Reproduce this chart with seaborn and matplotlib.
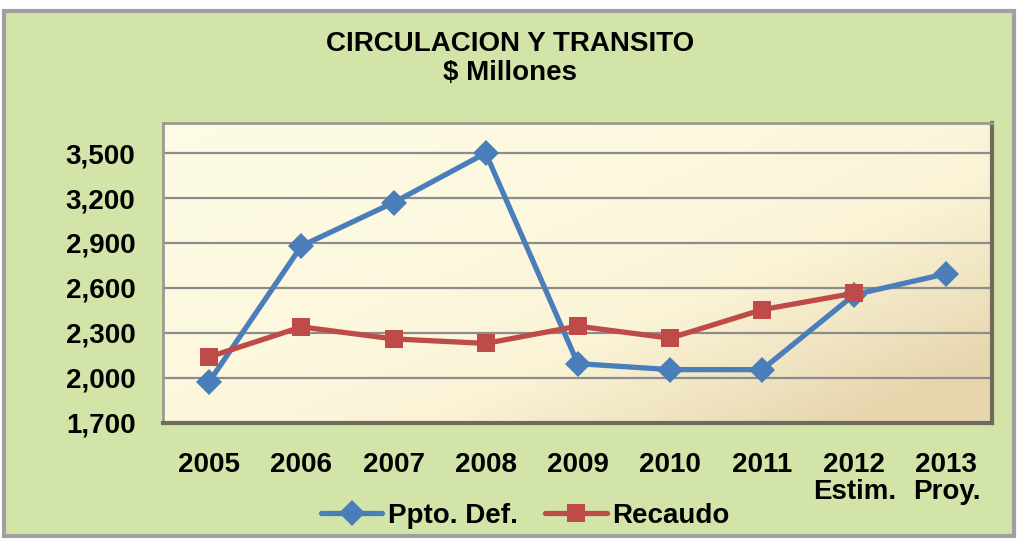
import numpy as np
import pandas as pd
import matplotlib
matplotlib.use("Agg")
import matplotlib.pyplot as plt
from matplotlib.patches import Rectangle
from matplotlib.colors import LinearSegmentedColormap
import seaborn as sns

# data
years = ["2005", "2006", "2007", "2008", "2009", "2010", "2011", "2012", "2013"]
tick_labels = ["2005", "2006", "2007", "2008", "2009", "2010", "2011",
               "2012\nEstim.", "2013\nProy."]
ppto_def = [1975, 2880, 3170, 3500, 2095, 2055, 2055, 2555, 2695]
recaudo = [2140, 2340, 2260, 2230, 2345, 2265, 2455, 2565, np.nan]
y_ticks = [1700, 2000, 2300, 2600, 2900, 3200, 3500]

sns.set_theme(style="white")
plt.rcParams["font.family"] = ["Liberation Sans", "DejaVu Sans"]
plt.rcParams["font.weight"] = "bold"
plt.rcParams["text.color"] = "black"
plt.rcParams["xtick.color"] = "black"
plt.rcParams["ytick.color"] = "black"

df = pd.DataFrame({
    "pos": list(range(len(years))) * 2,
    "valor": ppto_def + recaudo,
    "serie": ["Ppto. Def."] * len(years) + ["Recaudo"] * len(years),
})

fig = plt.figure(figsize=(10.2, 5.4), dpi=100, facecolor="white")
# outer green chart area with grey frame
fig.patches.append(Rectangle((0.004, 0.008), 0.99, 0.972, transform=fig.transFigure,
                             facecolor="#d3e4a8", edgecolor="#a0a0a0", linewidth=3,
                             zorder=-10))

ax = fig.add_axes([0.160, 0.217, 0.813, 0.555])

# gradient background of the plot area (cream -> tan towards bottom right)
gx, gy = np.meshgrid(np.linspace(0, 1, 200), np.linspace(0, 1, 100))
grad = np.clip(0.6 * gx + 0.5 * gy, 0, 1) ** 1.8
cmap = LinearSegmentedColormap.from_list("bg", ["#fefbe4", "#faf3d6", "#e6d5ad"])
ax.imshow(grad, cmap=cmap, extent=[-0.5, 8.5, 1700, 3700], aspect="auto",
          origin="upper", zorder=0)

sns.lineplot(data=df, x="pos", y="valor", hue="serie", style="serie",
             palette={"Ppto. Def.": "#4a7ebb", "Recaudo": "#be4b48"},
             markers={"Ppto. Def.": "D", "Recaudo": "s"}, dashes=False,
             linewidth=3.8, markersize=13, markeredgewidth=0, ax=ax, zorder=3)

ax.set_xlim(-0.5, 8.5)
ax.set_ylim(1700, 3700)
ax.set_yticks(y_ticks)
ax.set_yticklabels([f"{v:,}" for v in y_ticks], fontsize=20, fontweight="bold")
ax.set_xticks(range(len(years)))
ax.set_xticklabels(tick_labels, fontsize=20, fontweight="bold", linespacing=1.05,
                   va="top")
ax.tick_params(axis="x", pad=21, length=0)
ax.tick_params(axis="y", pad=20, length=0)
ax.set_xlabel("")
ax.set_ylabel("")
for v in y_ticks:
    ax.axhline(v, color="#8c8c8c", linewidth=1.6, zorder=1)

for side in ["top", "left"]:
    ax.spines[side].set_color("#9a9a90")
    ax.spines[side].set_linewidth(2)
for side in ["right", "bottom"]:
    ax.spines[side].set_color("#6e6a5c")
    ax.spines[side].set_linewidth(3)

handles, labels = ax.get_legend_handles_labels()
ax.get_legend().remove()
fig.legend(handles, labels, loc="center", bbox_to_anchor=(0.515, 0.045), ncol=2,
           frameon=False, handlelength=2.2, handletextpad=0.2,
           columnspacing=1.0, prop={"weight": "bold", "size": 20})

fig.text(0.5, 0.918, "CIRCULACION Y TRANSITO", ha="center", va="center",
         fontsize=20, fontweight="bold")
fig.text(0.5, 0.865, "$ Millones", ha="center", va="center",
         fontsize=20, fontweight="bold")

fig.savefig("out.png", dpi=100, facecolor=fig.get_facecolor())
